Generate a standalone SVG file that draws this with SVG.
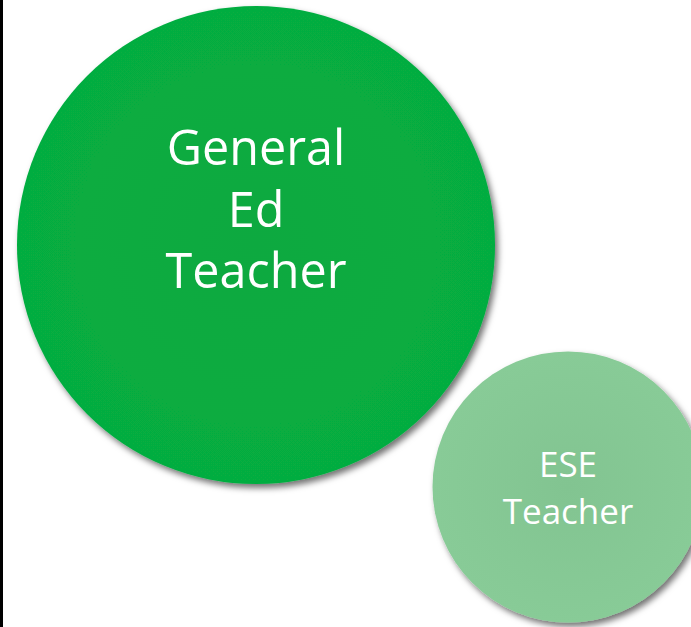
<svg xmlns="http://www.w3.org/2000/svg" width="691" height="627" viewBox="0 0 691 627">
  <style>
    .label { font-family: "Open Sans", "Liberation Sans", sans-serif; fill: #ffffff; text-anchor: middle; }
    .big { font-size: 48.5px; }
    .small { font-size: 35px; }
  </style>
  <defs>
    <filter id="shadow" x="-10%" y="-10%" width="125%" height="125%">
      <feDropShadow dx="3" dy="4" stdDeviation="3" flood-color="#000000" flood-opacity="0.55"/>
    </filter>
    <radialGradient id="gradGen" cx="50%" cy="50%" r="50%">
      <stop offset="0" stop-color="#0aa940"/>
      <stop offset="1" stop-color="#06ad41"/>
    </radialGradient>
    <radialGradient id="gradEse" cx="50%" cy="50%" r="50%">
      <stop offset="0" stop-color="#82c491"/>
      <stop offset="1" stop-color="#88cb97"/>
    </radialGradient>
  </defs>
  <rect x="0" y="0" width="691" height="627" fill="#ffffff"/>
  <rect x="0" y="0" width="3" height="627" fill="#000000"/>

  <g id="connectors"></g>

  <g id="general-ed-teacher">
    <circle cx="256" cy="245" r="239" fill="url(#gradGen)" filter="url(#shadow)"/>
    <text class="label big" x="256" y="165">General</text>
    <text class="label big" x="256" y="227">Ed</text>
    <text class="label big" x="256" y="288">Teacher</text>
  </g>

  <g id="ese-teacher">
    <circle cx="568" cy="487" r="135.5" fill="url(#gradEse)" filter="url(#shadow)"/>
    <text class="label small" x="568" y="477">ESE</text>
    <text class="label small" x="568" y="524">Teacher</text>
  </g>
</svg>
